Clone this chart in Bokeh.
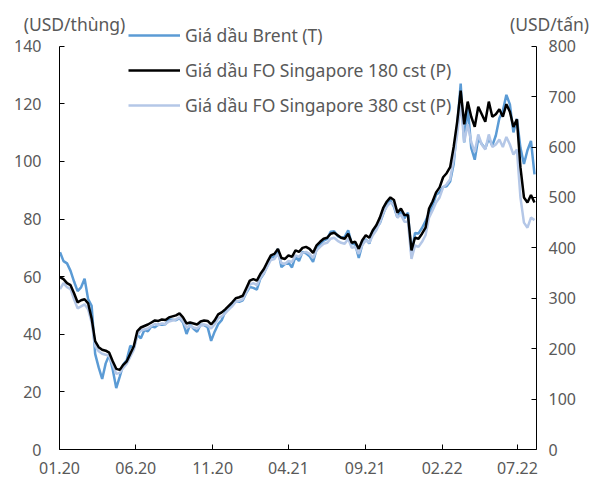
import pandas as pd
from bokeh.plotting import figure
from bokeh.models import (Range1d, LinearAxis, FixedTicker, DatetimeTickFormatter,
                          Legend, LegendItem, Label)
from bokeh.embed import file_html
from bokeh.resources import INLINE

# ---- data (weekly readings, Thursdays from 02.01.2020) ----
brent_2020 = [68.5, 65.4, 64.6, 62.0, 58.3,
              55.0, 56.3, 59.3, 52.2,
              49.9, 33.2, 28.5, 24.5,
              29.9, 32.8, 27.8, 21.3, 25.3,
              29.5, 31.1, 36.0, 35.3,
              39.9, 38.6, 41.5, 41.0,
              42.8, 42.4, 43.4, 43.3, 43.5,
              45.1, 45.0, 44.9, 45.6,
              44.1, 40.1, 43.3, 41.9,
              40.9, 43.3, 43.2, 42.5, 37.7,
              40.9, 43.5, 44.9, 47.8,
              48.7, 50.3, 51.5, 51.3, 51.8]
brent_2021 = [54.4, 56.4, 56.1, 55.5,
              59.3, 61.1, 63.9, 66.9,
              66.7, 69.6, 63.3, 64.4,
              64.9, 63.2, 67.0, 65.4, 68.6,
              68.1, 67.1, 65.1, 69.5,
              71.3, 72.5, 73.1, 75.6,
              75.8, 74.1, 73.5, 73.8, 76.1,
              71.3, 71.3, 66.5, 71.1,
              73.0, 71.5, 75.7, 77.3, 78.5,
              81.9, 85.0, 86.5, 84.3,
              80.5, 82.9, 80.2, 82.2,
              67.5, 75.2, 75.0, 76.9, 79.3]
brent_2022 = [82.0, 84.5, 88.4, 89.3,
              91.1, 91.4, 93.0, 99.1,
              112.0, 127.0, 106.6, 119.0, 104.7,
              100.6, 108.0, 106.0, 104.5,
              108.0, 105.5, 109.0, 115.0,
              117.6, 123.1, 119.8, 110.1, 114.8,
              104.7, 99.1, 103.9, 107.1,
              95.5]

fo180_2020 = [342, 338, 330, 326, 310,
              292, 296, 298, 290,
              260, 215, 203, 198,
              196, 192, 175, 160, 158,
              168, 175, 190, 205,
              235, 242, 245, 248,
              252, 256, 255, 258, 257,
              262, 264, 266, 270,
              262, 250, 252, 250,
              248, 254, 256, 255, 248,
              256, 268, 272, 278,
              285, 292, 300, 302, 305]
fo180_2021 = [320, 335, 338, 335,
              348, 358, 372, 385,
              388, 398, 380, 378,
              385, 382, 395, 392, 400,
              402, 398, 390, 405,
              412, 418, 420, 428,
              430, 425, 420, 418, 428,
              410, 412, 398, 415,
              425, 420, 435, 445, 460,
              480, 492, 500, 495,
              470, 478, 465, 465,
              395, 420, 418, 428, 440]
fo180_2022 = [478, 492, 510, 520,
              540, 548, 560, 600,
              650, 712, 645, 690, 660,
              640, 680, 665, 650,
              690, 660, 665, 675,
              660, 685, 670, 640, 655,
              560, 500, 490, 505,
              490]

fo380_2020 = [318, 330, 322, 318, 298,
              280, 284, 288, 278,
              252, 205, 195, 190,
              188, 185, 168, 150, 152,
              162, 170, 184, 198,
              228, 236, 238, 240,
              245, 249, 247, 250, 249,
              254, 256, 258, 262,
              254, 242, 245, 242,
              240, 246, 248, 246, 240,
              248, 260, 264, 270,
              278, 284, 293, 295, 298]
fo380_2021 = [312, 327, 330, 326,
              340, 350, 363, 376,
              378, 388, 370, 368,
              374, 372, 385, 382, 390,
              392, 388, 380, 395,
              402, 408, 410, 418,
              420, 414, 410, 408, 418,
              400, 402, 388, 405,
              415, 410, 425, 435, 450,
              470, 482, 490, 485,
              460, 466, 452, 452,
              378, 405, 402, 412, 425]
fo380_2022 = [460, 474, 490, 500,
              520, 526, 536, 575,
              625, 688, 610, 645, 610,
              590, 625, 605, 595,
              625, 600, 605, 615,
              600, 620, 605, 585, 595,
              500, 450, 440, 460,
              455]

brent = brent_2020 + brent_2021 + brent_2022
fo180 = fo180_2020 + fo180_2021 + fo180_2022
fo380 = fo380_2020 + fo380_2021 + fo380_2022
dates = pd.date_range("2020-01-02", periods=len(brent), freq="7D")

x_start, x_end = "2020-01-01", "2022-08-08"
x_tick_dates = ["2020-01-01", "2020-06-01", "2020-11-01", "2021-04-01",
                "2021-09-01", "2022-02-01", "2022-07-01"]
left_max, right_max = 140, 800
left_ticks = [0, 20, 40, 60, 80, 100, 120, 140]
right_ticks = [0, 100, 200, 300, 400, 500, 600, 700, 800]

series_names = ["Giá dầu Brent (T)",
                "Giá dầu FO Singapore 180 cst (P)",
                "Giá dầu FO Singapore 380 cst (P)"]
unit_left = "(USD/thùng)"
unit_right = "(USD/tấn)"

# ---- layout (pixels) ----
FONT = "Noto Sans"
FS_TICK = "16px"
FS_TEXT = "17.5px"
GRAY = "#595959"
W, H = 594, 484
AX_L, AX_R = 59.0, 536.0       # left / right axis lines
AX_B, AX_T = 449.0, 45.7       # zero line / top tick

def ms(d):
    return pd.Timestamp(d).value / 1e6

ms_px = (ms(x_end) - ms(x_start)) / (AX_R - AX_L)
xr0 = ms(x_start) - AX_L * ms_px
xr1 = xr0 + W * ms_px
up_l = left_max / (AX_B - AX_T)
yl0 = -(H - AX_B) * up_l
yl1 = yl0 + H * up_l
up_r = right_max / (AX_B - AX_T)
yr0 = -(H - AX_B) * up_r
yr1 = yr0 + H * up_r

p = figure(width=W, height=H, x_axis_type="datetime", output_backend="svg",
           toolbar_location=None,
           x_range=Range1d(xr0, xr1), y_range=Range1d(yl0, yl1),
           min_border=0, min_border_left=0, min_border_right=0,
           min_border_top=0, min_border_bottom=0)
p.extra_y_ranges = {"right": Range1d(yr0, yr1)}
p.grid.visible = False
p.outline_line_color = None
p.background_fill_color = "white"

r_brent = p.line(dates, brent, color="#5B9BD5", line_width=2.5)
r_380 = p.line(dates, fo380, color="#B4C7E7", line_width=2.5, y_range_name="right")
r_180 = p.line(dates, fo180, color="black", line_width=2.5, y_range_name="right")

xaxis = p.xaxis[0]
yaxis = p.yaxis[0]
right_axis = LinearAxis(y_range_name="right")
p.add_layout(right_axis, "right")

xaxis.ticker = FixedTicker(ticks=[ms(d) for d in x_tick_dates])
fmt = "%m.%y"
xaxis.formatter = DatetimeTickFormatter(
    microseconds=fmt, milliseconds=fmt, seconds=fmt, minsec=fmt, minutes=fmt,
    hourmin=fmt, hours=fmt, days=fmt, months=fmt, years=fmt)
xaxis.fixed_location = 0
xaxis.bounds = (ms(x_start), ms(x_end))

yaxis.ticker = FixedTicker(ticks=left_ticks)
yaxis.fixed_location = ms(x_start)
yaxis.bounds = (0, left_max)

right_axis.ticker = FixedTicker(ticks=right_ticks)
right_axis.fixed_location = ms(x_end)
right_axis.bounds = (0, right_max)

for ax in [xaxis, yaxis, right_axis]:
    ax.major_tick_in = 5
    ax.major_tick_out = 0
    ax.minor_tick_in = 0
    ax.minor_tick_out = 0
    ax.axis_line_color = "black"
    ax.major_tick_line_color = "black"
    ax.major_label_text_color = GRAY
    ax.major_label_text_font = FONT
    ax.major_label_text_font_size = FS_TICK
yaxis.major_label_standoff = 18
right_axis.major_label_standoff = 12
xaxis.major_label_standoff = 12

# ---- legend ----
ROW_H, GAP = 24, 11
leg_h = 3 * ROW_H + 2 * GAP
LEG_TOP = 23
legend = Legend(items=[LegendItem(label=series_names[0], renderers=[r_brent]),
                       LegendItem(label=series_names[1], renderers=[r_180]),
                       LegendItem(label=series_names[2], renderers=[r_380])],
                location=(128, H - LEG_TOP - leg_h),
                glyph_width=52, glyph_height=ROW_H, label_height=ROW_H,
                label_standoff=5, spacing=GAP, padding=0, margin=0,
                label_text_font=FONT, label_text_font_size=FS_TEXT,
                label_text_color=GRAY,
                border_line_alpha=0, background_fill_alpha=0)
p.add_layout(legend, "center")

# ---- unit labels ----
p.add_layout(Label(x=74, y=H - 23, x_units="screen", y_units="screen",
                   text=unit_left, text_align="center", text_baseline="middle",
                   text_font=FONT, text_font_size=FS_TEXT, text_color=GRAY))
p.add_layout(Label(x=549, y=H - 23, x_units="screen", y_units="screen",
                   text=unit_right, text_align="center", text_baseline="middle",
                   text_font=FONT, text_font_size=FS_TEXT, text_color=GRAY))

open("out.html", "w").write(file_html(p, INLINE))
